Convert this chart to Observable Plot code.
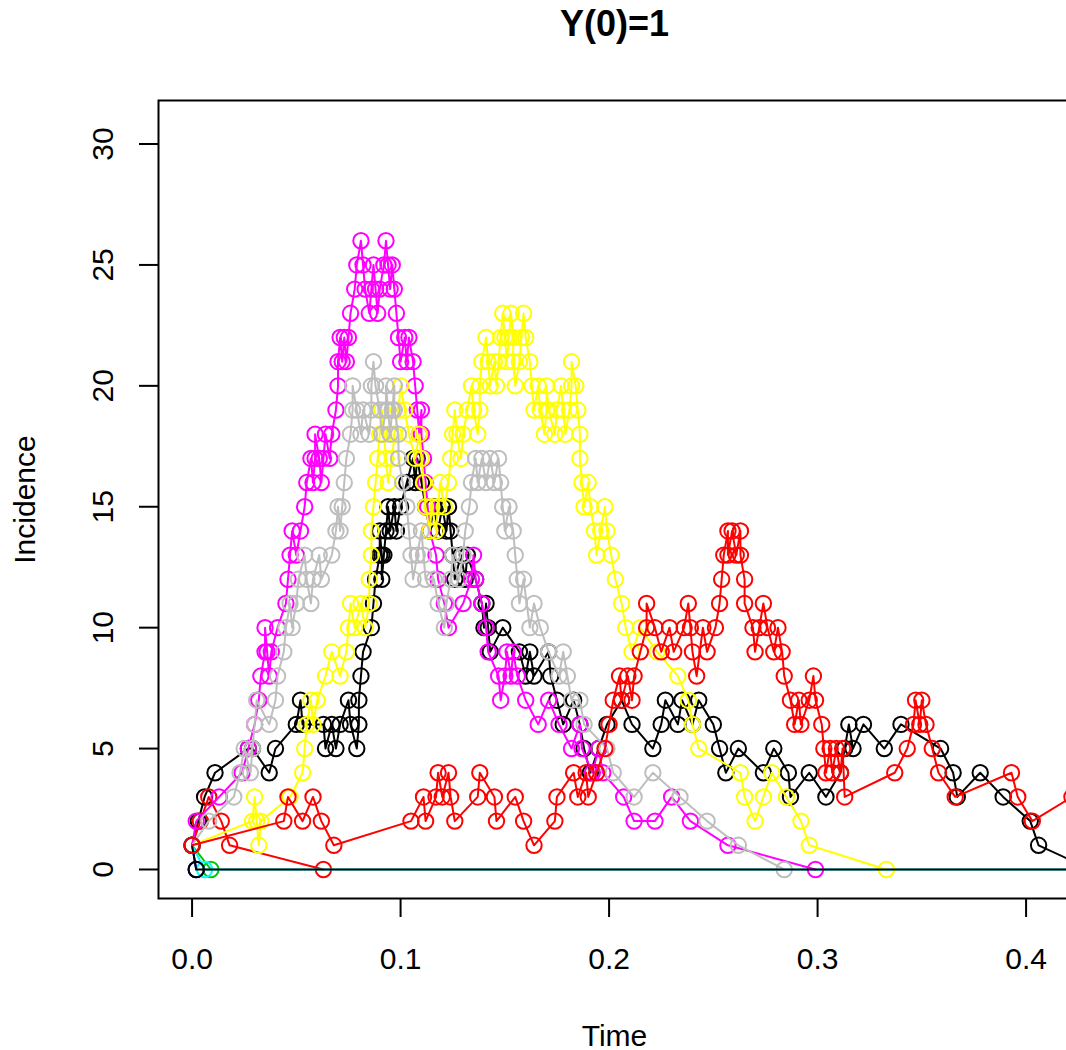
<!DOCTYPE html>
<html>
<head>
<meta charset="utf-8">
<script src="https://cdn.jsdelivr.net/npm/d3@7"></script>
<script src="https://cdn.jsdelivr.net/npm/@observablehq/plot@0.6"></script>
<style>
  html, body { margin: 0; padding: 0; background: #fff; overflow: hidden; }
  #chart svg { display: block; }
</style>
</head>
<body>
<div id="chart"></div>
<script>
// Axis ticks
const xTicks = [0, 0.1, 0.2, 0.3, 0.4];
const yTicks = [0, 5, 10, 15, 20, 25, 30];

// Ten simulated epidemics started from one infective: [time, incidence]
const run1 = [[0,1],[.003,2],[.006,3],[.011,4],[.027,5],[.029,5],[.037,4],[.040,5],[.050,6],[.052,7],[.053,6],[.063,6],[.064,5],[.067,6],[.069,5],[.071,6],[.075,7],[.076,6],[.079,5],[.080,6],[.080,7],[.081,8],[.082,9],[.086,10],[.087,11],[.088,12],[.090,13],[.090,14],[.091,13],[.091,12],[.092,13],[.093,14],[.094,15],[.095,14],[.097,15],[.098,14],[.100,15],[.103,16],[.106,17],[.107,16],[.108,17],[.110,16],[.112,15],[.114,14],[.116,15],[.118,14],[.120,15],[.122,14],[.123,15],[.124,14],[.125,13],[.126,12],[.129,13],[.131,12],[.132,13],[.136,12],[.139,11],[.140,10],[.141,11],[.142,10],[.143,9],[.149,10],[.157,9],[.160,8],[.162,9],[.164,8],[.171,9],[.172,8],[.175,7],[.178,6],[.183,7],[.186,6],[.188,5],[.191,4],[.195,5],[.199,6],[.206,7],[.211,6],[.221,5],[.225,6],[.227,7],[.233,6],[.235,7],[.240,6],[.243,7],[.250,6],[.253,5],[.256,4],[.262,5],[.274,4],[.279,5],[.286,4],[.287,3],[.296,4],[.304,3],[.311,4],[.313,5],[.315,6],[.317,5],[.322,6],[.332,5],[.340,6],[.359,5],[.365,4],[.367,3],[.378,4],[.389,3],[.402,2],[.406,1],[.431,0]];
const run2 = [[0,1],[.004,2],[.008,3],[.014,2],[.018,1],[.063,0]];
const run3 = [[0,1],[.009,0]];
const run4 = [[0,1],[.002,0]];
const run5 = [[0,1],[.006,0],[.45,0]];
const run6 = [[0,1],[.002,2],[.013,3],[.024,4],[.027,5],[.030,6],[.032,7],[.033,8],[.035,9],[.035,10],[.036,9],[.037,8],[.038,9],[.041,10],[.045,11],[.046,12],[.047,13],[.048,14],[.050,13],[.052,14],[.054,15],[.055,16],[.057,17],[.058,16],[.059,17],[.059,18],[.061,17],[.062,16],[.063,17],[.064,18],[.066,17],[.067,18],[.069,19],[.070,20],[.070,21],[.071,22],[.072,21],[.073,22],[.074,21],[.075,22],[.076,23],[.078,24],[.079,25],[.081,26],[.082,25],[.083,24],[.085,23],[.086,24],[.087,25],[.088,24],[.089,23],[.090,24],[.092,25],[.093,26],[.094,25],[.095,24],[.096,25],[.097,24],[.098,23],[.099,22],[.100,21],[.102,22],[.103,21],[.104,22],[.106,21],[.107,20],[.108,19],[.109,18],[.110,19],[.110,18],[.111,17],[.112,16],[.113,15],[.114,14],[.117,13],[.118,12],[.121,11],[.123,10],[.130,11],[.134,12],[.135,13],[.136,12],[.139,11],[.141,10],[.142,9],[.147,8],[.148,7],[.150,8],[.151,9],[.153,8],[.154,9],[.156,8],[.160,7],[.166,6],[.171,7],[.176,6],[.182,5],[.186,6],[.187,5],[.192,4],[.195,5],[.197,4],[.207,3],[.212,2],[.222,2],[.230,3],[.239,2],[.257,1],[.299,0]];
const run7 = [[0,1],[.029,2],[.030,3],[.031,2],[.032,1],[.033,2],[.047,3],[.053,4],[.054,5],[.055,6],[.057,7],[.058,6],[.060,7],[.064,8],[.067,9],[.071,8],[.074,9],[.075,10],[.076,11],[.078,10],[.081,11],[.083,10],[.085,11],[.085,12],[.086,13],[.086,14],[.087,15],[.088,16],[.089,17],[.090,18],[.091,19],[.092,18],[.093,17],[.094,16],[.096,17],[.097,18],[.099,19],[.100,20],[.102,19],[.104,18],[.107,17],[.109,18],[.110,17],[.111,16],[.112,15],[.114,14],[.115,15],[.117,14],[.118,15],[.119,16],[.121,15],[.123,16],[.124,17],[.125,18],[.126,19],[.127,18],[.129,17],[.130,18],[.132,19],[.134,20],[.135,19],[.137,18],[.138,19],[.138,20],[.139,21],[.141,22],[.142,21],[.143,20],[.145,21],[.146,20],[.147,21],[.148,22],[.149,23],[.150,22],[.151,21],[.152,22],[.153,23],[.154,22],[.154,21],[.155,20],[.157,21],[.158,22],[.159,23],[.160,22],[.162,21],[.163,20],[.164,19],[.166,20],[.167,19],[.169,18],[.170,19],[.170,20],[.171,19],[.174,18],[.175,19],[.177,20],[.178,19],[.179,18],[.181,19],[.182,20],[.182,21],[.184,20],[.185,19],[.186,18],[.186,17],[.187,16],[.188,15],[.190,16],[.191,15],[.193,14],[.194,13],[.196,14],[.198,15],[.199,14],[.201,13],[.203,12],[.206,11],[.208,10],[.211,9],[.215,10],[.223,9],[.233,8],[.238,7],[.240,6],[.243,5],[.263,4],[.265,3],[.270,2],[.274,3],[.278,4],[.285,3],[.292,2],[.296,1],[.333,0]];
const run8 = [[0,1],[.008,2],[.020,3],[.023,4],[.025,5],[.028,4],[.029,5],[.030,6],[.031,7],[.037,6],[.040,7],[.041,8],[.044,9],[.045,10],[.047,11],[.048,10],[.050,11],[.051,12],[.054,13],[.055,12],[.057,11],[.058,12],[.061,13],[.062,12],[.067,13],[.069,14],[.070,15],[.071,14],[.072,15],[.073,16],[.074,17],[.076,18],[.077,19],[.077,20],[.079,19],[.081,18],[.082,19],[.085,18],[.086,19],[.086,20],[.087,21],[.088,20],[.090,19],[.091,18],[.093,19],[.093,20],[.094,19],[.095,18],[.096,19],[.097,20],[.097,19],[.099,18],[.099,17],[.101,16],[.103,15],[.104,14],[.105,13],[.106,12],[.108,13],[.110,14],[.111,13],[.112,12],[.116,12],[.118,11],[.121,10],[.122,11],[.124,12],[.125,13],[.128,12],[.130,13],[.131,14],[.133,15],[.134,16],[.136,17],[.137,16],[.139,17],[.141,16],[.143,17],[.145,16],[.147,17],[.148,16],[.149,15],[.150,14],[.152,15],[.154,14],[.155,13],[.156,12],[.157,11],[.159,12],[.162,10],[.164,11],[.167,10],[.171,9],[.176,8],[.178,9],[.180,8],[.182,7],[.186,7],[.188,6],[.199,5],[.202,4],[.212,3],[.221,4],[.234,3],[.247,2],[.262,1],[.284,0]];
const run9 = [[0,1],[.002,0],[.45,0]];
const run10 = [[0,1],[.044,2],[.046,3],[.053,2],[.058,3],[.062,2],[.068,1],[.105,2],[.111,3],[.112,2],[.117,3],[.118,4],[.120,3],[.123,4],[.124,3],[.126,2],[.137,3],[.138,4],[.145,3],[.146,2],[.155,3],[.159,2],[.164,1],[.174,2],[.175,3],[.183,4],[.185,3],[.189,4],[.190,3],[.194,4],[.198,5],[.200,6],[.202,7],[.205,8],[.206,7],[.209,8],[.211,7],[.212,8],[.215,9],[.218,10],[.218,11],[.222,10],[.225,9],[.229,10],[.231,9],[.236,10],[.238,11],[.239,10],[.240,9],[.242,8],[.245,10],[.247,9],[.251,10],[.253,11],[.254,12],[.255,13],[.257,14],[.257,13],[.259,14],[.261,13],[.263,14],[.263,13],[.265,12],[.265,11],[.269,10],[.270,9],[.272,10],[.274,11],[.276,10],[.279,9],[.281,10],[.283,9],[.284,8],[.287,7],[.289,6],[.291,7],[.292,6],[.296,7],[.298,8],[.299,7],[.302,6],[.303,5],[.304,4],[.306,5],[.307,4],[.309,5],[.311,4],[.312,5],[.313,3],[.337,4],[.343,5],[.346,6],[.347,7],[.349,6],[.350,7],[.352,6],[.355,5],[.358,4],[.366,3],[.393,4],[.396,3],[.403,2],[.422,3]];

// Base R palette, recycled over the ten runs
const runColors = ["#000000", "#FF0000", "#00CD00", "#0000FF", "#00FFFF", "#FF00FF", "#FFFF00", "#BEBEBE", "#000000", "#FF0000"];
const runs = [run1, run2, run3, run4, run5, run6, run7, run8, run9, run10];

const marks = [Plot.frame({stroke: "black", strokeWidth: 2})];
runs.forEach((run, i) => {
  const data = run.map(([t, y]) => ({t, y}));
  marks.push(
    Plot.line(data, {x: "t", y: "y", stroke: runColors[i], strokeWidth: 2, clip: true}),
    Plot.dot(data, {x: "t", y: "y", r: 7.7, stroke: runColors[i], strokeWidth: 2, fill: "none", clip: true})
  );
});

marks.push(
  Plot.axisX(xTicks, {tickSize: 19, tickPadding: 30, fontSize: 30, strokeWidth: 2, tickFormat: d3.format(".1f"), label: null}),
  Plot.axisY(yTicks, {tickSize: 19, tickPadding: 27, tickRotate: -90, fontSize: 30, strokeWidth: 2, label: null}),
  Plot.text(["Y(0)=1"], {frameAnchor: "top", dy: -65, lineAnchor: "bottom", fontSize: 36, fontWeight: "bold"}),
  Plot.text(["Time"], {frameAnchor: "bottom", dy: 147, lineAnchor: "bottom", fontSize: 30}),
  Plot.text(["Incidence"], {frameAnchor: "left", dx: -124, rotate: -90, textAnchor: "middle", lineAnchor: "bottom", fontSize: 30})
);

const chart = Plot.plot({
  width: 1066,
  height: 1050,
  marginLeft: 158,
  marginRight: -4,
  marginTop: 100,
  marginBottom: 152,
  style: {fontFamily: "'Liberation Sans', Arial, Helvetica, sans-serif", fontSize: "30px", color: "black", background: "white"},
  x: {domain: [-0.0161, 0.4213]},
  y: {domain: [-1.2, 31.8]},
  marks
});
document.getElementById("chart").appendChild(chart);
</script>
</body>
</html>
